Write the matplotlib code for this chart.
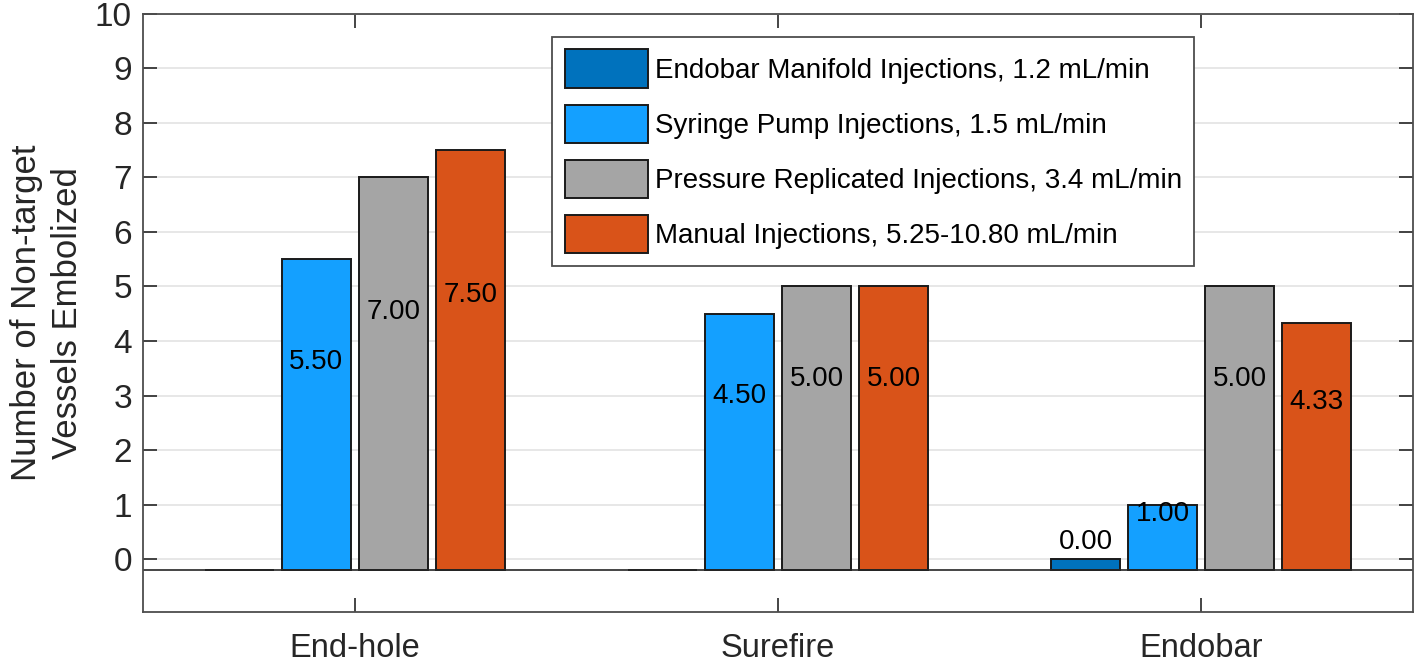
import numpy as np
import matplotlib
matplotlib.use("Agg")
import matplotlib.pyplot as plt

plt.rcParams['font.family'] = ['Liberation Sans', 'DejaVu Sans']

# data
groups = ["End-hole", "Surefire", "Endobar"]
series_names = [
    "Endobar Manifold Injections, 1.2 mL/min",
    "Syringe Pump Injections, 1.5 mL/min",
    "Pressure Replicated Injections, 3.4 mL/min",
    "Manual Injections, 5.25-10.80 mL/min",
]
manifold = [np.nan, np.nan, 0.00]
syringe = [5.50, 4.50, 1.00]
pressure = [7.00, 5.00, 5.00]
manual = [7.50, 5.00, 4.33]
colors = ["#0072BD", "#14A0FF", "#A5A5A5", "#D95319"]

base = -0.2
text_col = "#262626"

fig = plt.figure(figsize=(14.18, 6.63), dpi=100)
ax = fig.add_axes([0.1008, 0.0762, 0.8957, 0.9028])

x = np.arange(1, len(groups) + 1)
step = 0.182
width = 0.163
all_series = [manifold, syringe, pressure, manual]

ax.set_axisbelow(True)
ax.yaxis.grid(True, color="#E3E3E3", linewidth=1.2)

for i, (vals, name, c) in enumerate(zip(all_series, series_names, colors)):
    vals = np.array(vals, dtype=float)
    heights = np.where(np.isnan(vals), 0, vals - base)
    xs = x + (i - 1.5) * step
    ax.bar(xs, heights, width, bottom=base, color=c, edgecolor="#1a1a1a",
           linewidth=1.4, label=name, zorder=2)
    for xi, v in zip(xs, vals):
        if np.isnan(v):
            continue
        if v == 0:
            ax.text(xi, v + 0.08, f"{v:.2f}", ha="center", va="bottom",
                    fontsize=20, color="black", zorder=3)
        else:
            ax.text(xi, v * 0.62 + 0.2, f"{v:.2f}", ha="center", va="center",
                    fontsize=20, color="black", zorder=3)

ax.axhline(base, color="#262626", linewidth=1.2, zorder=2.5)

ax.set_xlim(0.5, 3.5)
ax.set_ylim(-0.98, 10)
ax.set_yticks(range(0, 11))
ax.set_xticks(x)
ax.set_xticklabels(groups)
ax.tick_params(axis="y", direction="in", length=10, width=1.2, labelsize=24,
               colors=text_col, right=True, pad=8)
ax.tick_params(axis="x", direction="in", length=10, width=1.2, labelsize=23.5,
               colors=text_col, top=True, pad=15)
for s in ax.spines.values():
    s.set_color("#4d4d4d")
    s.set_linewidth(1.3)

ax.set_ylabel("Number of Non-target\nVessels Embolized", fontsize=25,
              color=text_col, linespacing=1.3, labelpad=8)

leg = fig.legend(loc="upper left", bbox_to_anchor=(0.3893, 0.9442), fontsize=20,
                 handlelength=3.0, handleheight=1.75, handletextpad=0.25,
                 borderpad=0.45, labelspacing=0.6, borderaxespad=0,
                 fancybox=False, edgecolor="#4d4d4d", framealpha=1)
leg.get_frame().set_linewidth(1.3)

fig.savefig("out.png", dpi=100)
